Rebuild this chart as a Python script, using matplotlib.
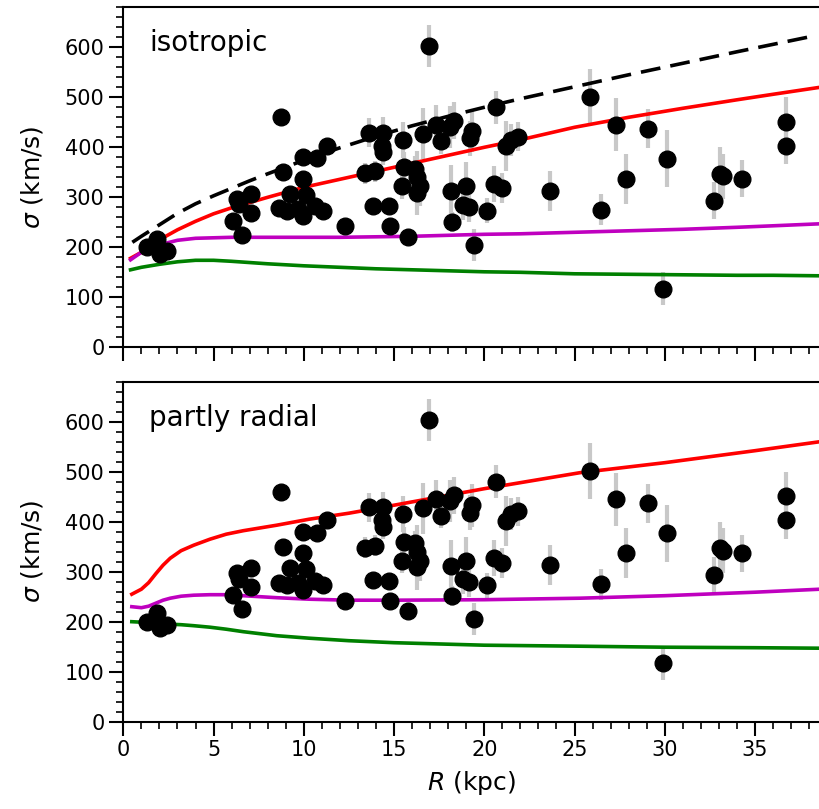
import matplotlib
matplotlib.use("Agg")
import matplotlib.pyplot as plt
from matplotlib.ticker import MultipleLocator

plt.rcParams.update({
    'font.family': 'DejaVu Sans',
    'font.size': 15,
    'xtick.labelsize': 15, 'ytick.labelsize': 15,
    'axes.labelsize': 18, 'axes.linewidth': 1.5,
    'mathtext.fontset': 'dejavusans',
})

# observed dispersions (same points in both panels)
R_obs = [1.3, 1.7, 1.85, 2.03, 2.4,
         6.1, 6.3, 6.4, 6.6, 7.1, 7.1,
         8.64, 8.72, 8.83, 9.05, 9.24, 9.7, 9.94, 9.94, 9.94, 10.12, 10.62,
         10.75, 11.08, 11.3, 12.3,
         13.39, 13.63, 13.85, 13.94, 14.31, 14.4, 14.4, 14.72, 14.78,
         15.46, 15.51, 15.57, 15.76, 16.16, 16.25, 16.25, 16.44, 16.62,
         16.96, 17.32, 17.6, 18.1, 18.16, 18.2, 18.34, 18.84, 19.0, 19.17,
         19.2, 19.33, 19.43, 20.17, 20.54, 20.65, 20.96, 21.18, 21.48, 21.88,
         23.64, 25.86, 26.45, 27.3, 27.85, 29.09, 29.92, 30.14,
         32.73, 33.06, 33.2, 34.3, 36.7, 36.7]
sig_obs = [200, 202, 217, 187, 193,
           253, 297, 286, 225, 307, 269,
           278, 460, 350, 273, 307, 277, 380, 337, 263, 305, 282,
           378, 273, 403, 242,
           348, 429, 283, 352, 403, 429, 390, 282, 242,
           322, 415, 360, 221, 357, 340, 309, 322, 427,
           603, 445, 412, 441, 312, 251, 453, 285, 322, 280,
           418, 433, 205, 273, 327, 480, 318, 402, 415, 421,
           313, 501, 275, 445, 337, 437, 117, 377,
           293, 347, 342, 337, 451, 403]
err_obs = [10, 10, 10, 10, 10,
           10, 10, 10, 10, 10, 10,
           10, 10, 10, 10, 10, 10, 10, 10, 10, 10, 10,
           10, 10, 10, 10,
           21, 29, 15, 21, 25, 31, 25, 12, 15,
           25, 36, 30, 15, 25, 53, 45, 40, 51,
           42, 39, 25, 42, 52, 20, 37, 30, 48, 30,
           35, 43, 32, 25, 36, 33, 30, 50, 32, 29,
           40, 56, 31, 53, 50, 39, 33, 57,
           37, 53, 45, 37, 49, 37]

# model curves, isotropic panel
R_dash = [0.5, 1, 2, 3, 4, 5, 6, 7, 8, 10, 12, 14, 16, 18, 20, 22, 25, 28, 31, 34, 37.9]
sig_dash = [210, 222, 245, 268, 287, 303, 318, 333, 347, 374, 399, 422, 443, 462, 480, 497,
            521, 545, 568, 591, 620]
R_iso = [0.4, 1, 2, 3, 4, 5, 6, 8, 10, 12, 14, 16, 18, 20, 22, 25, 28, 31, 34, 36, 38.6]
red_iso = [178, 190, 215, 235, 252, 267, 279, 300, 320, 336, 352, 368, 384, 400, 415, 440,
           460, 478, 495, 506, 520]
mag_iso = [175, 190, 205, 214, 218, 219, 220, 220, 220, 220, 221, 222, 224, 226, 227, 230,
           233, 236, 240, 243, 247]
grn_iso = [155, 160, 166, 171, 174, 174, 172, 167, 163, 160, 157, 155, 153, 151, 150, 147,
           146, 145, 144, 144, 143]

# model curves, partly radial panel
R_rad = [0.47, 1.0, 1.4, 1.8, 2.2, 2.6, 3.2, 3.9, 4.8, 5.7, 6.65, 8.5, 10.3, 12.5, 15, 20,
         25.3, 30, 35, 38.6]
red_rad = [255, 265, 278, 296, 313, 327, 342, 353, 365, 375, 382, 393, 405, 417, 433, 466,
           498, 518, 542, 560]
mag_rad = [230, 228, 231, 237, 243, 247, 251, 253, 254, 254, 252, 248, 245, 243, 243, 244,
           247, 252, 259, 265]
grn_rad = [200, 199, 198, 197, 196, 195, 194, 192, 189, 185, 180, 172, 167, 162, 158, 153,
           151, 149, 148, 147]

fig = plt.figure(figsize=(8.2, 8.09), dpi=100)
ax1 = fig.add_axes([0.1504, 0.5707, 0.8496, 0.4203])
ax2 = fig.add_axes([0.1504, 0.1079, 0.8496, 0.4203])

panels = [
    (ax1, "isotropic", R_iso, red_iso, mag_iso, grn_iso),
    (ax2, "partly radial", R_rad, red_rad, mag_rad, grn_rad),
]

for ax, name, Rm, red, mag, grn in panels:
    ax.errorbar(R_obs, sig_obs, yerr=err_obs, fmt='none', ecolor='#c8c8c8',
                elinewidth=3, zorder=1)
    ax.plot(Rm, red, color='#ff0000', lw=2.6, zorder=2)
    ax.plot(Rm, mag, color='#bf00bf', lw=2.6, zorder=2)
    ax.plot(Rm, grn, color='#008000', lw=2.6, zorder=2)
    if name == "isotropic":
        ax.plot(R_dash, sig_dash, color='black', lw=2.6, ls=(0, (5.5, 2.8)), zorder=2)
    ax.plot(R_obs, sig_obs, 'o', color='black', ms=12, zorder=3)

    ax.set_xlim(0, 38.6)
    ax.set_ylim(0, 680)
    ax.xaxis.set_major_locator(MultipleLocator(5))
    ax.xaxis.set_minor_locator(MultipleLocator(1))
    ax.yaxis.set_major_locator(MultipleLocator(100))
    ax.yaxis.set_minor_locator(MultipleLocator(20))
    ax.tick_params(which='major', direction='out', length=10, width=1.5,
                   top=False, right=False)
    ax.tick_params(which='minor', direction='out', length=5, width=1.2,
                   top=False, right=False)
    ax.spines['right'].set_visible(False)
    ax.set_ylabel(r'$\sigma$ (km/s)', labelpad=14)
    ax.text(1.45, 608, name, fontsize=20, va='center')

ax1.tick_params(labelbottom=False)
ax2.set_xlabel(r'$R$ (kpc)', labelpad=6)

fig.savefig("out.png", dpi=100)
